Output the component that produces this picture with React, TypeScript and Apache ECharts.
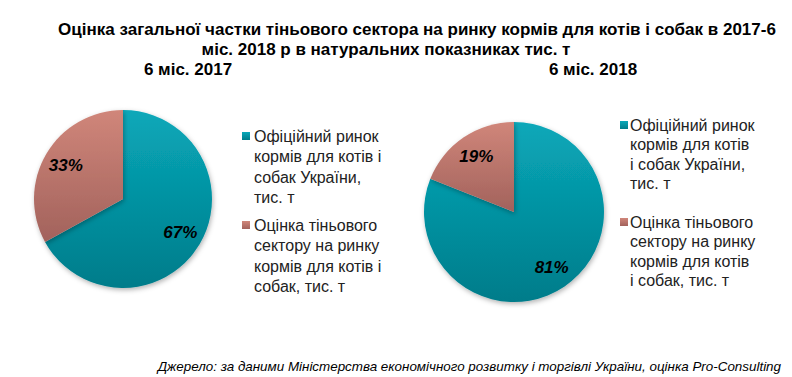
import React, { useEffect, useRef } from "react";
import * as echarts from "echarts";

const categories = [
  "Офіційний ринок кормів для котів і собак України, тис. т",
  "Оцінка тіньового сектору на ринку кормів для котів і собак, тис. т",
];
const periods = ["6 міс. 2017", "6 міс. 2018"];
const share2017 = [67, 33];
const share2018 = [81, 19];
const legendLines2017 = [
  ["Офіційний ринок", "кормів для котів і", "собак України,", "тис. т"],
  ["Оцінка тіньового", "сектору на ринку", "кормів для котів і", "собак, тис. т"],
];
const legendLines2018 = [
  ["Офіційний ринок", "кормів для котів", "і собак України,", "тис. т"],
  ["Оцінка тіньового", "сектору на ринку", "кормів для котів", "і собак, тис. т"],
];
const titleLines = [
  "Оцінка загальної частки тіньового сектора на ринку кормів для котів і собак в 2017-6",
  "міс. 2018 р в натуральних показниках тис. т",
];
const sourceText =
  "Джерело: за даними Міністерства економічного розвитку і торгівлі України, оцінка Pro-Consulting";

const grad = (a: string, b: string) =>
  new echarts.graphic.LinearGradient(0, 0, 0, 1, [
    { offset: 0, color: a },
    { offset: 1, color: b },
  ]);
const tealColors = ["#09A8B9", "#007C8A"];
const salmonColors = ["#D0867A", "#A2625C"];

const titleFont = '"Liberation Sans Narrow", "Arial Narrow", "Liberation Sans", Arial, sans-serif';
const bodyFont = '"Liberation Sans", Arial, sans-serif';

export default function App() {
  const ref = useRef<HTMLDivElement>(null);
  useEffect(() => {
    document.body.style.margin = "0";
    if (!ref.current) return;
    const chart = echarts.init(ref.current, undefined, { renderer: "svg" });

    const itemColors = [grad(tealColors[0], tealColors[1]), grad(salmonColors[0], salmonColors[1])];

    const makeData = (vals: number[]) =>
      vals.map((v, i) => ({ name: categories[i], value: v, itemStyle: { color: itemColors[i] } }));

    const pies = [
      { vals: share2017, center: [123, 199], r: 89 },
      { vals: share2018, center: [514, 212], r: 90 },
    ];

    const series: any[] = [];
    pies.forEach((p) => {
      series.push({
        type: "pie",
        center: p.center,
        radius: [0, p.r],
        startAngle: 90,
        clockwise: true,
        silent: true,
        label: { show: false },
        labelLine: { show: false },
        itemStyle: {
          shadowBlur: 5,
          shadowOffsetY: 2,
          shadowOffsetX: 1,
          shadowColor: "rgba(0,0,0,0.3)",
        },
        data: makeData(p.vals),
      });
      series.push({
        type: "pie",
        center: p.center,
        radius: [Math.round(p.r * 0.5), Math.round(p.r * 0.92)],
        startAngle: 90,
        clockwise: true,
        silent: true,
        itemStyle: { color: "transparent" },
        label: {
          show: true,
          position: "inside",
          formatter: "{c}%",
          color: "#000",
          fontSize: 17,
          fontWeight: "bold",
          fontStyle: "italic",
          fontFamily: bodyFont,
        },
        labelLine: { show: false },
        data: p.vals.map((v, i) => ({ name: categories[i], value: v })),
      });
    });

    const graphics: any[] = [];
    graphics.push({
      type: "text",
      x: 417,
      y: 29,
      style: {
        text: titleLines[0],
        textAlign: "center",
        textVerticalAlign: "middle",
        font: `bold 17px ${titleFont}`,
        fill: "#000",
      },
    });
    graphics.push({
      type: "text",
      x: 386,
      y: 49,
      style: {
        text: titleLines[1],
        textAlign: "center",
        textVerticalAlign: "middle",
        font: `bold 17px ${titleFont}`,
        fill: "#000",
      },
    });
    const subX = [188, 593];
    periods.forEach((t, i) => {
      graphics.push({
        type: "text",
        x: subX[i],
        y: 69,
        style: {
          text: t,
          textAlign: "center",
          textVerticalAlign: "middle",
          font: `bold 17px ${titleFont}`,
          fill: "#000",
        },
      });
    });

    const legends = [
      { lines: legendLines2017, mx: 242, tx: 254, y0: [136, 225], lh: 20.5 },
      { lines: legendLines2018, mx: 620, tx: 630, y0: [125, 222], lh: 19.5 },
    ];
    const markerColors = [tealColors, salmonColors];
    legends.forEach((lg) => {
      lg.lines.forEach((lines, i) => {
        graphics.push({
          type: "rect",
          shape: { x: lg.mx, y: lg.y0[i] - 4, width: 8, height: 8 },
          style: { fill: grad(markerColors[i][0], markerColors[i][1]) },
        });
        lines.forEach((ln, j) => {
          graphics.push({
            type: "text",
            x: lg.tx,
            y: lg.y0[i] + j * lg.lh,
            style: {
              text: ln,
              textAlign: "left",
              textVerticalAlign: "middle",
              font: `16px ${bodyFont}`,
              fill: "#222",
            },
          });
        });
      });
    });

    graphics.push({
      type: "text",
      x: 781,
      y: 366,
      style: {
        text: sourceText,
        textAlign: "right",
        textVerticalAlign: "middle",
        font: `italic 13.4px ${bodyFont}`,
        fill: "#000",
      },
    });

    chart.setOption({
      animation: false,
      backgroundColor: "#fff",
      series,
      graphic: graphics,
    });
    return () => chart.dispose();
  }, []);
  return <div ref={ref} style={{ width: 792, height: 377 }} />;
}
